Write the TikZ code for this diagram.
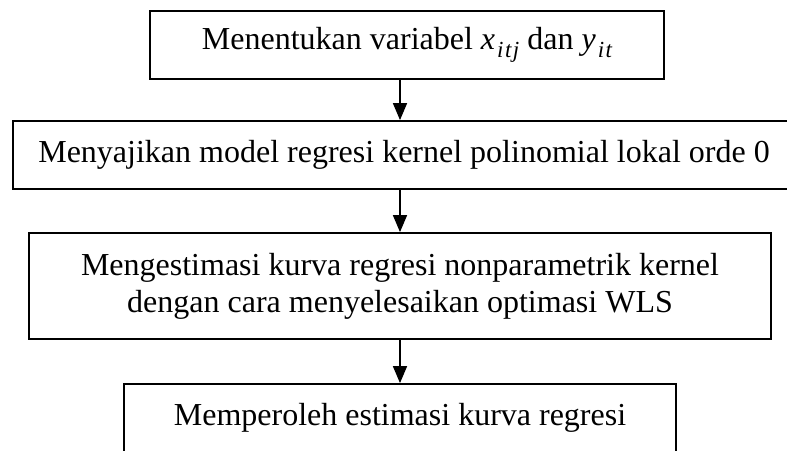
\documentclass[tikz,border=0pt]{standalone}
\usepackage{fontspec}
\setmainfont{Liberation Serif}
\usetikzlibrary{arrows.meta}
\newcommand{\msub}[1]{\raisebox{-0.25em}{\fontsize{23}{25}\selectfont\itshape #1}}
\begin{document}
\begin{tikzpicture}[x=1pt,y=-1pt,
  box/.style={draw, line width=1.8pt, inner sep=0pt, align=center,
    font=\fontsize{32}{37}\selectfont},
  arr/.style={line width=1.6pt, -{Triangle[width=14pt,length=17pt]}}]
\useasboundingbox (0,0) rectangle (787,450);
\clip (0,0) rectangle (787,450);
\node[box, minimum width=514pt, minimum height=68pt] (b1) at (407,45)
  {Menentukan variabel \textit{x}\kern2pt\msub{i\kern1.5pt t\kern1.5pt j} dan \textit{y}\kern2pt\msub{i\kern1.5pt t}};
\node[box, minimum width=782pt, minimum height=68pt] (b2) at (404,155)
  {Menyajikan model regresi kernel polinomial lokal orde 0};
\node[box, minimum width=742pt, minimum height=106pt] (b3) at (400,286)
  {Mengestimasi kurva regresi nonparametrik kernel\\dengan cara menyelesaikan optimasi WLS};
\node[box, minimum width=552pt, minimum height=68pt] (b4) at (400,418)
  {Memperoleh estimasi kurva regresi};
\draw[arr] (b1.south -| b3.center) -- (b2.north -| b3.center);
\draw[arr] (b2.south -| b3.center) -- (b3.north);
\draw[arr] (b3.south) -- (b4.north);
\end{tikzpicture}
\end{document}
